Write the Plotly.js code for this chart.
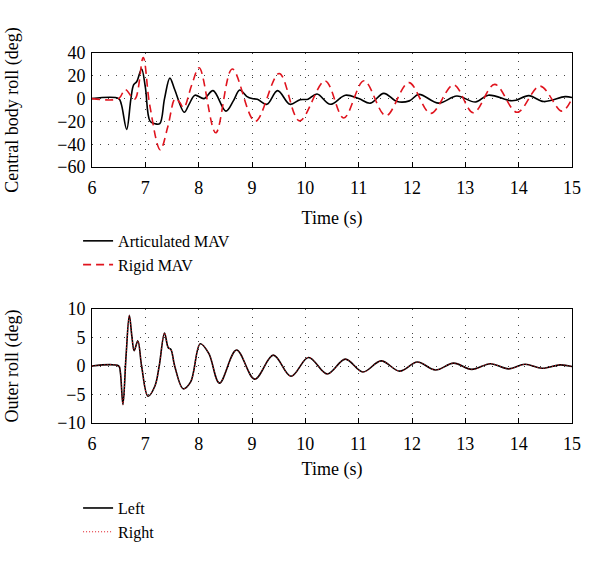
<!DOCTYPE html>
<html>
<head>
<meta charset="utf-8">
<script src="https://cdn.plot.ly/plotly-3.0.1.min.js"></script>
<style>html,body{margin:0;padding:0;background:#fff;}#chart{width:600px;height:566px;}</style>
</head>
<body>
<div id="chart"></div>
<script>
// Central body roll (deg) — Articulated MAV
const artT = [6.0, 6.5, 6.55, 6.65, 6.73, 6.78, 6.84, 6.93, 7.0, 7.09, 7.18, 7.27, 7.36, 7.46, 7.55, 7.73, 7.82, 7.93, 8.1, 8.27, 8.51, 8.65, 8.77, 8.9, 9.0, 9.1, 9.28, 9.48, 9.71, 9.9, 10.05, 10.22, 10.47, 10.75, 11.0, 11.22, 11.47, 11.72, 11.95, 12.13, 12.5, 12.84, 13.19, 13.43, 13.84, 13.95, 14.19, 14.47, 14.87, 15.0];
const artV = [0, 0, -5, -27, 0, 12, 15, 26, 10, -20, -22, -22, 0, 18, 8, -12, -5, 3, 0, 7, -11, -2, 7.5, 2, 0, -0.5, -5, 7, -5, -1, -0.5, 4, -5, 3, 0, -4, 4.6, -2.6, -2, 3.7, -4, 2.3, -3, 3, -1.8, -1.5, 2.6, -2.6, 1.7, 1];
// Central body roll (deg) — Rigid MAV
const rigT = [6.0, 6.5, 6.62, 6.8, 6.96, 7.08, 7.28, 7.42, 7.56, 7.64, 7.72, 7.87, 8.01, 8.32, 8.63, 9.06, 9.51, 9.89, 10.37, 10.72, 11.1, 11.51, 11.94, 12.35, 12.78, 13.15, 13.55, 13.97, 14.4, 14.81, 15.0];
const rigV = [0, 0, 8, -0.5, 36, -5, -45, -25, 0, -3, -8, 12, 27, -30, 26, -20, 22, -19.5, 15.5, -17, 15.6, -15, 14, -13, 12, -12.4, 12.5, -12, 11, -11, 0];
// Outer roll (deg)
const outT = [6.0, 6.5, 6.53, 6.58, 6.64, 6.7, 6.75, 6.79, 6.86, 6.93, 7.05, 7.18, 7.26, 7.36, 7.43, 7.48, 7.55, 7.71, 7.85, 8.03, 8.19, 8.39, 8.71, 9.05, 9.4, 9.73, 10.06, 10.41, 10.75, 11.08, 11.42, 11.77, 12.1, 12.44, 12.78, 13.12, 13.47, 13.81, 14.12, 14.44, 14.78, 15.0];
const leftV = [0, 0, -1, -6.8, 2, 8.9, 5, 2.7, 4.4, 0, -5.3, -3.5, 0, 5.8, 3.2, 2.9, 0, -4, -2.8, 3.9, 2.2, -3, 2.8, -2.3, 1.9, -1.8, 1.5, -1.4, 1.2, -1.05, 0.9, -0.9, 0.7, -0.7, 0.5, -0.6, 0.4, -0.5, 0.3, -0.4, 0.2, -0.1];
const rightV = [0, 0, -1, -6.8, 2, 8.9, 5, 2.7, 4.4, 0, -5.3, -3.5, 0, 5.8, 3.2, 2.9, 0, -4, -2.8, 3.9, 2.2, -3, 2.8, -2.3, 1.9, -1.8, 1.5, -1.4, 1.2, -1.05, 0.9, -0.9, 0.7, -0.7, 0.5, -0.6, 0.4, -0.5, 0.3, -0.4, 0.2, -0.1];
const xTicks = [6, 7, 8, 9, 10, 11, 12, 13, 14, 15];
const topYTicks = [-60, -40, -20, 0, 20, 40];
const botYTicks = [-10, -5, 0, 5, 10];

const FONT = "Liberation Serif, Times New Roman, serif";
const RED = "#e0141e";

const traces = [
  {x: artT, y: artV, xaxis: 'x', yaxis: 'y', name: 'Articulated MAV', mode: 'lines',
   line: {color: '#000', width: 1.6, shape: 'spline', smoothing: 1}, legend: 'legend'},
  {x: rigT, y: rigV, xaxis: 'x', yaxis: 'y', name: 'Rigid MAV', mode: 'lines',
   line: {color: RED, width: 1.6, dash: '8px,5px', shape: 'spline', smoothing: 1}, legend: 'legend'},
  {x: outT, y: leftV, xaxis: 'x2', yaxis: 'y2', name: 'Left', mode: 'lines',
   line: {color: '#000', width: 1.6, shape: 'spline', smoothing: 1}, legend: 'legend2'},
  {x: outT, y: rightV, xaxis: 'x2', yaxis: 'y2', name: 'Right', mode: 'lines',
   line: {color: RED, width: 1, dash: '1px,2px', shape: 'spline', smoothing: 1}, legend: 'legend2'}
];

function xax(anchor, standoff) {
  return {
    anchor: anchor, range: [6, 15], tickvals: xTicks, ticks: 'inside', ticklen: 5, tickcolor: '#000',
    ticklabelstandoff: 4,
    showline: true, mirror: true, linecolor: '#000', linewidth: 1,
    showgrid: true, gridcolor: '#444', griddash: '1px,7px', gridwidth: 1, zeroline: false,
    tickfont: {family: FONT, size: 18, color: '#000'},
    title: {text: 'Time (s)', font: {family: FONT, size: 18, color: '#000'}, standoff: standoff}
  };
}
function yax(anchor, range, ticks, title, domain) {
  return {
    anchor: anchor, range: range, tickvals: ticks, domain: domain, ticks: '',
    ticklabelstandoff: 2,
    showline: true, mirror: true, linecolor: '#000', linewidth: 1,
    showgrid: true, gridcolor: '#444', griddash: '1px,7px', gridwidth: 1, zeroline: false,
    tickfont: {family: FONT, size: 18, color: '#000'},
    title: {text: title, font: {family: FONT, size: 18, color: '#000'}, standoff: 33}
  };
}

const layout = {
  width: 600, height: 566,
  margin: {l: 92, r: 28, t: 53, b: 143},
  paper_bgcolor: '#fff', plot_bgcolor: '#fff',
  showlegend: true,
  xaxis: xax('y', 14),
  yaxis: yax('x', [-60, 40], topYTicks, 'Central body roll (deg)', [0.6919, 1]),
  xaxis2: xax('y2', 9),
  yaxis2: yax('x2', [-10, 10], botYTicks, 'Outer roll (deg)', [0, 0.3081]),
  legend: {x: -0.029, y: 0.538, xanchor: 'left', yanchor: 'top', bgcolor: 'rgba(0,0,0,0)',
           font: {family: FONT, size: 16, color: '#000'}, tracegroupgap: 0},
  legend2: {x: -0.029, y: -0.184, xanchor: 'left', yanchor: 'top', bgcolor: 'rgba(0,0,0,0)',
            font: {family: FONT, size: 16, color: '#000'}, tracegroupgap: 0}
};

Plotly.newPlot('chart', traces, layout, {staticPlot: true, displayModeBar: false});
</script>
</body>
</html>
